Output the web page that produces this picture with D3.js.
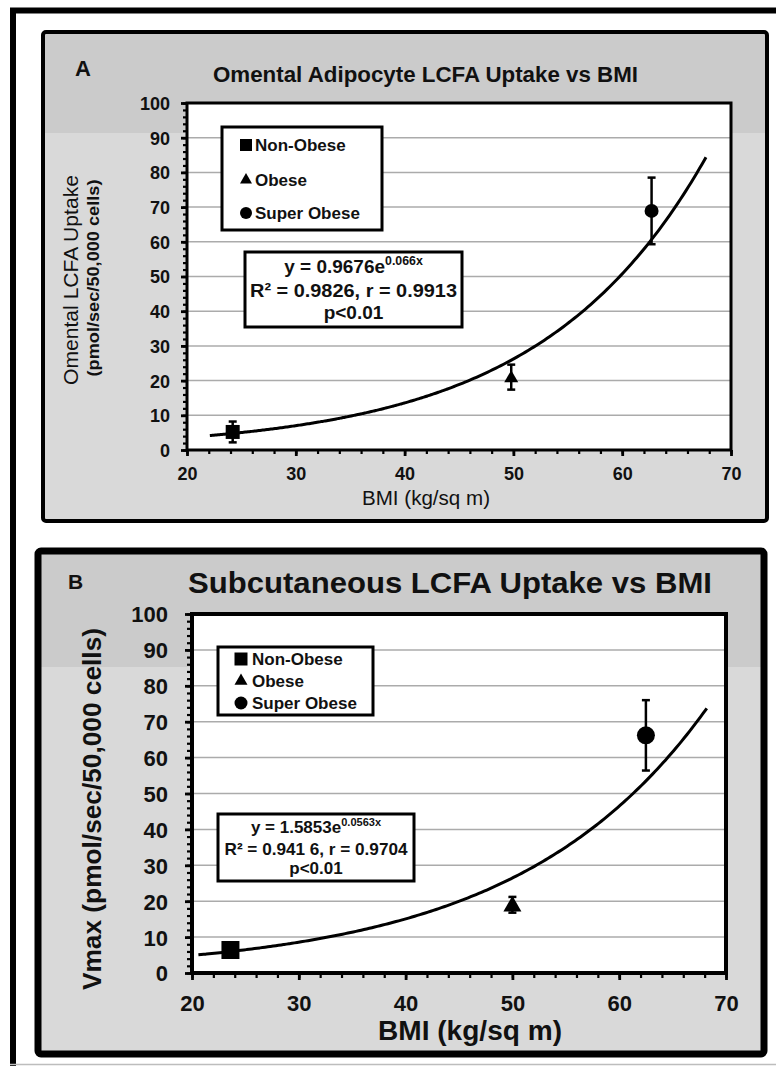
<!DOCTYPE html>
<html>
<head>
<meta charset="utf-8">
<script src="https://cdn.jsdelivr.net/npm/d3@7/dist/d3.min.js"></script>
<style>
  html, body { margin: 0; padding: 0; background: #fff; }
  svg { display: block; font-family: "Liberation Sans", Arial, Helvetica, sans-serif; }
</style>
</head>
<body>
<div id="chart"></div>
<script>
// ---- data ----
var groups = ['Non-Obese', 'Obese', 'Super Obese'];

// panel A: omental adipocytes
var bmiA = [24.2, 49.8, 62.7];
var uptakeA = [5.2, 21.0, 68.9];
var errA = [3.0, 3.6, 9.6];
var fitA = [0.9676, 0.066];          // y = a * e^(b x)
var fitRangeA = [22.1, 67.7];
var eqA = ['y = 0.9676e', '0.066x', 'R\u00b2 = 0.9826, r = 0.9913', 'p<0.01'];

// panel B: subcutaneous adipocytes
var bmiB = [23.6, 50.0, 62.5];
var vmaxB = [6.4, 19.0, 66.2];
var errB = [1.2, 2.2, 9.8];
var fitB = [1.5853, 0.0563];
var fitRangeB = [20.6, 68.2];
var eqB = ['y = 1.5853e', '0.0563x', 'R\u00b2 = 0.941 6, r = 0.9704', 'p<0.01'];

var xTicks = [20, 30, 40, 50, 60, 70];
var yTicks = [0, 10, 20, 30, 40, 50, 60, 70, 80, 90, 100];
var xDomain = [20, 70];
var yDomain = [0, 100];

var W = 776, H = 1066;
var symbolTypes = [d3.symbolSquare, d3.symbolTriangle, d3.symbolCircle];

var svg = d3.select('#chart').append('svg')
  .attr('width', W).attr('height', H);

// outer frame (right and bottom edges fall outside the picture)
svg.append('path')
  .attr('d', 'M13,' + H + ' V10.5 H' + (W + 10))
  .attr('fill', 'none').attr('stroke', '#000').attr('stroke-width', 6);
svg.append('line')
  .attr('x1', 10).attr('x2', W).attr('y1', H - 1.5).attr('y2', H - 1.5)
  .attr('stroke', '#bdbdbd').attr('stroke-width', 1.5);

// symbol size from a visual width in px
function symArea(type, d) {
  if (type === d3.symbolSquare) return d * d;
  if (type === d3.symbolCircle) return Math.PI * d * d / 4;
  return Math.sqrt(3) / 4 * d * d;
}

function drawPanel(p) {
  var g = svg.append('g');

  // panel background, darker band at the top
  g.append('rect')
    .attr('x', p.frame[0]).attr('y', p.frame[1])
    .attr('width', p.frame[2]).attr('height', p.frame[3])
    .attr('fill', '#d9d9d9');
  g.append('rect')
    .attr('x', p.frame[0]).attr('y', p.frame[1])
    .attr('width', p.frame[2]).attr('height', p.band)
    .attr('fill', '#cbcbcb');
  g.append('rect')
    .attr('x', p.frame[0]).attr('y', p.frame[1])
    .attr('width', p.frame[2]).attr('height', p.frame[3])
    .attr('rx', 3)
    .attr('fill', 'none').attr('stroke', '#000').attr('stroke-width', p.frameStroke);

  var x = d3.scaleLinear().domain(xDomain).range([p.plot.left, p.plot.right]);
  var y = d3.scaleLinear().domain(yDomain).range([p.plot.bottom, p.plot.top]);

  // plot area
  g.append('rect')
    .attr('x', x(xDomain[0])).attr('y', y(yDomain[1]))
    .attr('width', x(xDomain[1]) - x(xDomain[0]))
    .attr('height', y(yDomain[0]) - y(yDomain[1]))
    .attr('fill', '#fff');

  // gridlines
  g.append('g').selectAll('line')
    .data(yTicks.slice(1, -1))
    .enter().append('line')
    .attr('x1', x(xDomain[0])).attr('x2', x(xDomain[1]))
    .attr('y1', function(d) { return y(d); })
    .attr('y2', function(d) { return y(d); })
    .attr('stroke', '#ababab').attr('stroke-width', 1.5);

  // minor ticks
  var minorX = d3.range(xDomain[0], xDomain[1] + 0.1, 2);
  var minorY = d3.range(yDomain[0], yDomain[1] + 0.1, 2);
  g.append('g')
    .attr('transform', 'translate(0,' + p.plot.bottom + ')')
    .call(d3.axisBottom(x).tickValues(minorX).tickSize(p.minorTick).tickFormat(''))
    .call(function(a) { a.select('.domain').remove(); })
    .selectAll('line').attr('stroke-width', 2.2);
  g.append('g')
    .attr('transform', 'translate(' + p.plot.left + ',0)')
    .call(d3.axisLeft(y).tickValues(minorY).tickSize(p.minorTick).tickFormat(''))
    .call(function(a) { a.select('.domain').remove(); })
    .selectAll('line').attr('stroke-width', 2.2);

  // major ticks + labels
  var xa = g.append('g')
    .attr('transform', 'translate(0,' + p.plot.bottom + ')')
    .call(d3.axisBottom(x).tickValues(xTicks).tickSize(p.majorTick).tickFormat(d3.format('d')));
  xa.select('.domain').remove();
  xa.selectAll('line').attr('stroke-width', 2.8);
  xa.selectAll('text')
    .attr('y', p.xTickBase - p.plot.bottom).attr('dy', 0)
    .attr('font-size', p.tickFont).attr('font-weight', 'bold')
    .attr('font-family', 'inherit').attr('fill', '#111');

  var ya = g.append('g')
    .attr('transform', 'translate(' + p.plot.left + ',0)')
    .call(d3.axisLeft(y).tickValues(yTicks).tickSize(p.majorTick)
      .tickPadding(p.plot.left - p.yTickEnd - p.majorTick).tickFormat(d3.format('d')));
  ya.select('.domain').remove();
  ya.selectAll('line').attr('stroke-width', 2.8);
  ya.selectAll('text')
    .attr('dy', '0.36em')
    .attr('font-size', p.tickFont).attr('font-weight', 'bold')
    .attr('font-family', 'inherit').attr('fill', '#111');

  // plot border / axes lines
  g.append('rect')
    .attr('x', x(xDomain[0])).attr('y', y(yDomain[1]))
    .attr('width', x(xDomain[1]) - x(xDomain[0]))
    .attr('height', y(yDomain[0]) - y(yDomain[1]))
    .attr('fill', 'none').attr('stroke', '#000').attr('stroke-width', p.plotStroke);

  // exponential trendline from the printed equation
  var fx = d3.range(p.fitRange[0], p.fitRange[1], 0.25).concat([p.fitRange[1]]);
  var line = d3.line()
    .x(function(d) { return x(d); })
    .y(function(d) { return y(p.fit[0] * Math.exp(p.fit[1] * d)); })
    .curve(d3.curveMonotoneX);
  g.append('path')
    .datum(fx)
    .attr('d', line)
    .attr('fill', 'none').attr('stroke', '#000').attr('stroke-width', 3);

  // error bars
  var pts = p.bmi.map(function(b, i) {
    return { x: b, y: p.val[i], e: p.err[i], type: symbolTypes[i] };
  });
  var eb = g.append('g').selectAll('g').data(pts).enter().append('g')
    .attr('stroke', '#000').attr('stroke-width', 2.5);
  eb.append('line')
    .attr('x1', function(d) { return x(d.x); }).attr('x2', function(d) { return x(d.x); })
    .attr('y1', function(d) { return y(d.y - d.e); }).attr('y2', function(d) { return y(d.y + d.e); });
  eb.append('line')
    .attr('x1', function(d) { return x(d.x) - p.cap; }).attr('x2', function(d) { return x(d.x) + p.cap; })
    .attr('y1', function(d) { return y(d.y + d.e); }).attr('y2', function(d) { return y(d.y + d.e); });
  eb.append('line')
    .attr('x1', function(d) { return x(d.x) - p.cap; }).attr('x2', function(d) { return x(d.x) + p.cap; })
    .attr('y1', function(d) { return y(d.y - d.e); }).attr('y2', function(d) { return y(d.y - d.e); });

  // markers
  g.append('g').selectAll('path').data(pts).enter().append('path')
    .attr('transform', function(d) {
      var dy = d.type === d3.symbolTriangle ? p.marker * 0.08 : 0;
      return 'translate(' + x(d.x) + ',' + (y(d.y) + dy) + ')';
    })
    .attr('d', function(d) { return d3.symbol().type(d.type).size(symArea(d.type, p.marker))(); })
    .attr('fill', '#000');

  // legend
  var L = p.legend;
  g.append('rect')
    .attr('x', L.x).attr('y', L.y).attr('width', L.w).attr('height', L.h)
    .attr('fill', '#fff').attr('stroke', '#000').attr('stroke-width', 3);
  var lg = g.append('g').selectAll('g').data(groups).enter().append('g')
    .attr('transform', function(d, i) { return 'translate(0,' + L.rows[i] + ')'; });
  lg.append('path')
    .attr('transform', 'translate(' + L.mx + ',0)')
    .attr('d', function(d, i) {
      return d3.symbol().type(symbolTypes[i]).size(symArea(symbolTypes[i], L.msize))();
    })
    .attr('fill', '#000');
  lg.append('text')
    .attr('x', L.tx).attr('dy', '0.36em')
    .attr('font-size', L.font).attr('font-weight', 'bold').attr('fill', '#111')
    .text(function(d) { return d; });

  // equation box
  var E = p.eqBox;
  g.append('rect')
    .attr('x', E.x).attr('y', E.y).attr('width', E.w).attr('height', E.h)
    .attr('fill', '#fff').attr('stroke', '#000').attr('stroke-width', 3);
  var t1 = g.append('text')
    .attr('x', E.cx).attr('y', E.base[0]).attr('text-anchor', 'middle')
    .attr('font-size', E.font).attr('font-weight', 'bold').attr('fill', '#111');
  t1.append('tspan').text(p.eq[0]);
  t1.append('tspan').attr('dy', -E.font * 0.42).attr('font-size', E.font * 0.65).text(p.eq[1]);
  g.append('text')
    .attr('x', E.cx).attr('y', E.base[1]).attr('text-anchor', 'middle')
    .attr('font-size', E.font).attr('font-weight', 'bold').attr('fill', '#111')
    .attr('textLength', E.len2).attr('lengthAdjust', 'spacingAndGlyphs')
    .text(p.eq[2]);
  g.append('text')
    .attr('x', E.cx).attr('y', E.base[2]).attr('text-anchor', 'middle')
    .attr('font-size', E.font).attr('font-weight', 'bold').attr('fill', '#111')
    .text(p.eq[3]);

  // panel letter + title
  g.append('text')
    .attr('x', p.letter.x).attr('y', p.letter.y)
    .attr('font-size', p.letter.size).attr('font-weight', 'bold').attr('fill', '#111')
    .text(p.letter.text);
  g.append('text')
    .attr('x', p.title.x).attr('y', p.title.y).attr('text-anchor', 'middle')
    .attr('font-size', p.title.size).attr('font-weight', 'bold').attr('fill', '#111')
    .attr('textLength', p.title.len).attr('lengthAdjust', 'spacingAndGlyphs')
    .text(p.title.text);

  // axis titles
  p.yLabel.forEach(function(t) {
    g.append('text')
      .attr('transform', 'translate(' + t.x + ',' + t.cy + ') rotate(-90)')
      .attr('text-anchor', 'middle')
      .attr('font-size', t.size).attr('font-weight', t.weight).attr('fill', '#111')
      .attr('textLength', t.len).attr('lengthAdjust', 'spacingAndGlyphs')
      .text(t.text);
  });
  g.append('text')
    .attr('x', p.xLabel.x).attr('y', p.xLabel.y).attr('text-anchor', 'middle')
    .attr('font-size', p.xLabel.size).attr('font-weight', p.xLabel.weight).attr('fill', '#111')
    .attr('textLength', p.xLabel.len).attr('lengthAdjust', 'spacingAndGlyphs')
    .text(p.xLabel.text);
}

drawPanel({
  frame: [43, 32, 724, 489], band: 101, frameStroke: 4,
  plot: { left: 187, right: 731, top: 103, bottom: 450 }, plotStroke: 3,
  majorTick: 6, minorTick: 4, tickFont: 18, yTickEnd: 170, xTickBase: 480,
  bmi: bmiA, val: uptakeA, err: errA, fit: fitA, fitRange: fitRangeA,
  marker: 14, cap: 4,
  legend: { x: 222, y: 127, w: 160, h: 103, rows: [145, 180, 213], mx: 246, tx: 255, msize: 12, font: 17 },
  eqBox: { x: 245, y: 252, w: 217, h: 75, cx: 353.5, base: [273, 297, 319], font: 19, len2: 207 },
  eq: eqA,
  letter: { text: 'A', x: 75, y: 76, size: 22 },
  title: { text: 'Omental Adipocyte LCFA Uptake vs BMI', x: 425.5, y: 82, size: 22, len: 425 },
  yLabel: [
    { text: 'Omental LCFA Uptake', x: 78, cy: 280, size: 21, weight: 'normal', len: 210 },
    { text: '(pmol/sec/50,000 cells)', x: 99, cy: 278, size: 17, weight: 'bold', len: 197 }
  ],
  xLabel: { text: 'BMI (kg/sq m)', x: 426, y: 505, size: 20, weight: 'normal', len: 128 }
});

drawPanel({
  frame: [38, 551, 726, 503], band: 116, frameStroke: 7,
  plot: { left: 192, right: 726, top: 614, bottom: 973 }, plotStroke: 4,
  majorTick: 7, minorTick: 5, tickFont: 22, yTickEnd: 168, xTickBase: 1011,
  bmi: bmiB, val: vmaxB, err: errB, fit: fitB, fitRange: fitRangeB,
  marker: 18, cap: 4,
  legend: { x: 218, y: 647, w: 155, h: 68, rows: [659, 681, 703], mx: 241, tx: 252, msize: 13, font: 17 },
  eqBox: { x: 218, y: 814, w: 196, h: 67, cx: 316, base: [833, 855, 874], font: 17, len2: 183 },
  eq: eqB,
  letter: { text: 'B', x: 68, y: 589, size: 21 },
  title: { text: 'Subcutaneous LCFA Uptake vs BMI', x: 450, y: 593, size: 30, len: 524 },
  yLabel: [
    { text: 'Vmax (pmol/sec/50,000 cells)', x: 101, cy: 809, size: 26, weight: 'bold', len: 362 }
  ],
  xLabel: { text: 'BMI (kg/sq m)', x: 470, y: 1040, size: 27, weight: 'bold', len: 184 }
});
</script>
</body>
</html>
